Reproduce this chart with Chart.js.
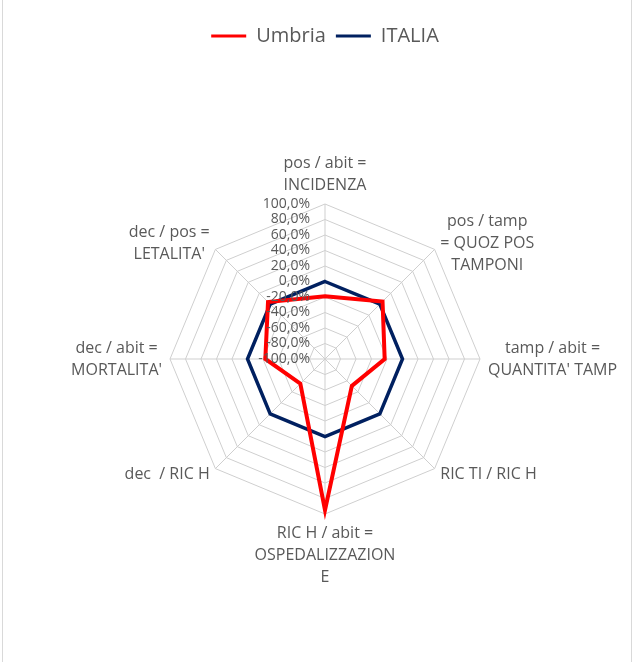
<!DOCTYPE html>
<html>
<head>
<meta charset="utf-8">
<title>Umbria vs ITALIA</title>
<script src="https://cdn.jsdelivr.net/npm/chart.js@4/dist/chart.umd.min.js"></script>
<style>
    html, body { margin: 0; padding: 0; background: #fff; }
    #wrap { position: relative; width: 640px; height: 662px; }
    #frame { position: absolute; left: 2px; top: 0; width: 630px; height: 662px;
             border-left: 1px solid #d9d9d9; border-right: 1px solid #d9d9d9; box-sizing: border-box; pointer-events: none; }
    canvas { position: absolute; left: 0; top: 0; }
</style>
</head>
<body>
<div id="wrap">
    <canvas id="chart" width="640" height="662"></canvas>
    <div id="frame"></div>
</div>
<script>
// categorie (etichette degli assi, su più righe)
const categories = [
    ['pos / abit =', 'INCIDENZA'],
    ['pos / tamp', '= QUOZ POS', 'TAMPONI'],
    ['tamp / abit =', "QUANTITA' TAMP"],
    ['RIC TI / RIC H'],
    ['RIC H / abit =', 'OSPEDALIZZAZION', 'E'],
    ['dec  / RIC H'],
    ['dec / abit =', "MORTALITA'"],
    ['dec / pos =', "LETALITA'"]
];

// valori in percentuale
const umbriaValues = [-19, 5, -23, -51, 95, -55, -23, 4];
const italiaValues = [0, 0, 0, 0, 0, 0, 0, 0];

// scala
const scaleMin = -100;
const scaleMax = 100;
const scaleStep = 20;

const TEXT_COLOR = '#595959';
const GRID_COLOR = '#cfcfcf';
const FONT_FAMILY = '"Open Sans", "Noto Sans", sans-serif';

const formatPct = v => v.toFixed(1).replace('.', ',') + '%';

// etichette degli assi e dei tick disegnate a mano (stile Excel)
const axisTextPlugin = {
    id: 'axisText',
    afterDatasetsDraw(chart) {
        const scale = chart.scales.r;
        const ctx = chart.ctx;
        const lineH = 22;
        const pad = 8;
        const n = categories.length;

        ctx.save();
        ctx.fillStyle = TEXT_COLOR;
        ctx.textBaseline = 'middle';

        // etichette dei tick, a sinistra dell'asse verticale
        ctx.font = '14px ' + FONT_FAMILY;
        ctx.textAlign = 'right';
        scale.ticks.forEach(tick => {
            const d = scale.getDistanceFromCenterForValue(tick.value);
            ctx.fillText(formatPct(tick.value), scale.xCenter - 15, scale.yCenter - d);
        });

        // etichette delle categorie
        ctx.font = '16px ' + FONT_FAMILY;
        ctx.textAlign = 'center';
        categories.forEach((lines, i) => {
            const p = scale.getPointPosition(i, scale.drawingArea + pad);
            const w = Math.max(...lines.map(t => ctx.measureText(t).width));
            const h = lines.length * lineH;
            const angle = i * 360 / n;
            let cx = p.x;
            let top = p.y - h / 2;
            if (angle > 0 && angle < 180) cx = p.x + w / 2;
            if (angle > 180) cx = p.x - w / 2;
            if (angle === 0) top = p.y - h;
            if (angle === 180) top = p.y;
            lines.forEach((t, k) => ctx.fillText(t, cx, top + lineH * (k + 0.5)));
        });
        ctx.restore();
    }
};

const ctx = document.getElementById('chart');

new Chart(ctx, {
    type: 'radar',
    data: {
        labels: categories,
        datasets: [
            {
                label: 'Umbria',
                data: umbriaValues,
                borderColor: '#ff0000',
                backgroundColor: '#ff0000',
                borderWidth: 4,
                fill: false,
                pointRadius: 0,
                pointHoverRadius: 0
            },
            {
                label: 'ITALIA',
                data: italiaValues,
                borderColor: '#002060',
                backgroundColor: '#002060',
                borderWidth: 3.5,
                fill: false,
                pointRadius: 0,
                pointHoverRadius: 0
            }
        ]
    },
    options: {
        responsive: false,
        animation: false,
        devicePixelRatio: 1,
        layout: { padding: { top: 16, left: 170, right: 160, bottom: 0 } },
        plugins: {
            tooltip: { enabled: false },
            legend: {
                position: 'top',
                labels: {
                    color: TEXT_COLOR,
                    font: { size: 20, family: FONT_FAMILY },
                    boxWidth: 35,
                    boxHeight: 0,
                    padding: 10,
                    generateLabels: chart => Chart.defaults.plugins.legend.labels.generateLabels(chart)
                        .map(item => ({ ...item, lineWidth: 3 }))
                }
            }
        },
        scales: {
            r: {
                min: scaleMin,
                max: scaleMax,
                ticks: { stepSize: scaleStep, display: false },
                grid: { color: GRID_COLOR, lineWidth: 1, circular: false },
                angleLines: { color: GRID_COLOR, lineWidth: 1 },
                pointLabels: { display: false }
            }
        }
    },
    plugins: [axisTextPlugin]
});
</script>
</body>
</html>
